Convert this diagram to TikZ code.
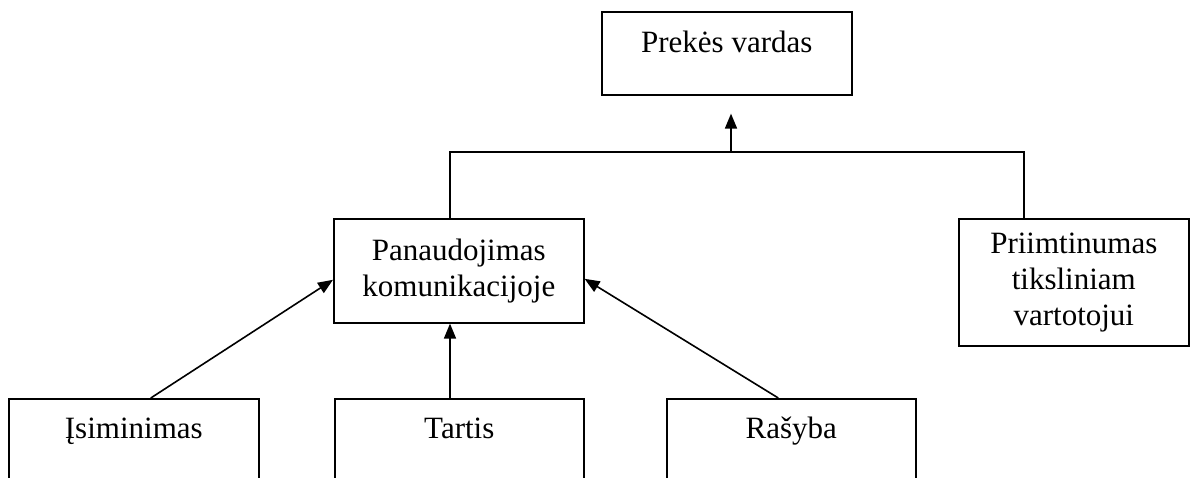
\documentclass[tikz,border=0pt]{standalone}
\usepackage{fontspec}
\setmainfont{Liberation Serif}
\usetikzlibrary{arrows.meta,calc}
\begin{document}
\begin{tikzpicture}[x=1pt,y=-1pt,
  box/.style={draw, rectangle, line width=1.6pt, inner xsep=0pt, inner ysep=0pt, align=center, anchor=north west, font=\fontsize{31}{36}\selectfont},
  topbox/.style={box, text height=22pt, inner ysep=18pt, text depth=100pt},
  conn/.style={line width=1.6pt},
  arr/.style={line width=1.6pt, -{Triangle[length=15pt,width=12pt]}}]
\useasboundingbox (0,0) rectangle (1199,477);
\clip (0,0) rectangle (1199,477);
% nodes
\node[box, minimum width=250pt, text height=22pt, text depth=23pt, inner ysep=19pt] (prekes) at (601,11) {Prekės vardas};
\node[box, minimum width=250pt, minimum height=104pt] (panaud) at (333,218) {Panaudojimas\\komunikacijoje};
\node[box, minimum width=230pt, minimum height=127pt] (priim) at (958,218) {Priimtinumas\\tiksliniam\\vartotojui};
\node[topbox, minimum width=250pt] (isim) at (8,398) {Įsiminimas};
\node[topbox, minimum width=249pt] (tartis) at (334,398) {Tartis};
\node[topbox, minimum width=249pt] (rasyba) at (666,398) {Rašyba};
% junction coordinates
\coordinate (jl) at (450,152);
\coordinate (jm) at (731,152);
\coordinate (jr) at (1024,152);
% connectors
\draw[conn] (panaud.north -| jl) -- (jl) -- (jr) -- (priim.north -| jr);
\draw[arr, shorten >=18pt] (jm) -- (prekes.south -| jm);
\draw[arr] ($(isim.north)+(17,0)$) -- ($(panaud.west)+(0,9)$);
\draw[arr] (tartis.north -| jl) -- (panaud.south -| jl);
\draw[arr] ($(rasyba.north)+(-13,0)$) -- ($(panaud.east)+(0,8)$);
\end{tikzpicture}
\end{document}
